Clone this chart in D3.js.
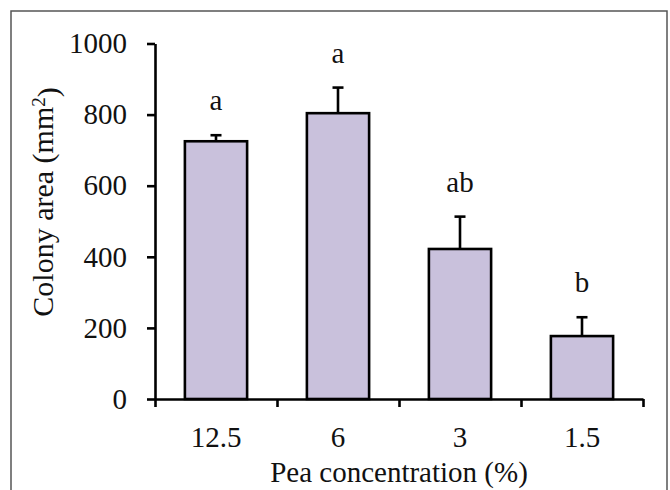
<!DOCTYPE html>
<html>
<head>
<meta charset="utf-8">
<script src="https://cdn.jsdelivr.net/npm/d3@7"></script>
<style>
  body { margin: 0; background: #fff; }
</style>
</head>
<body>
<script>
// data
const concentrations = ["12.5", "6", "3", "1.5"];
const areaMeans = [725, 804, 422, 177];
const areaErrors = [17, 72, 91, 53];
const groupLetters = ["a", "a", "ab", "b"];
const yTicks = [0, 200, 400, 600, 800, 1000];

const width = 670, height = 490;
const serif = "'Liberation Serif', 'DejaVu Serif', serif";

let svg = d3.select("body").append("svg")
  .attr("width", width)
  .attr("height", height);

// frame around the figure (bottom edge runs off the picture)
svg.append("path")
  .attr("d", "M11,492 L11,11 L667,11 L667,492")
  .attr("fill", "none")
  .attr("stroke", "#555")
  .attr("stroke-width", 1.5);

let plotLeft = 155, plotRight = 643, plotTop = 43.5, plotBottom = 399;

let x = d3.scaleBand()
  .domain(concentrations)
  .range([plotLeft, plotRight])
  .paddingInner(0.49)
  .paddingOuter(0.245);

let y = d3.scaleLinear()
  .domain([0, 1000])
  .range([plotBottom, plotTop]);

// bars
svg.selectAll("rect.bar")
  .data(areaMeans)
  .join("rect")
  .attr("class", "bar")
  .attr("x", (d, i) => x(concentrations[i]))
  .attr("y", d => y(d))
  .attr("width", x.bandwidth())
  .attr("height", d => y(0) - y(d))
  .attr("fill", "#c9c1dc")
  .attr("stroke", "#000")
  .attr("stroke-width", 2.6);

// error bars (upper half only)
let cx = i => x(concentrations[i]) + x.bandwidth() / 2;
svg.selectAll("line.err")
  .data(areaMeans)
  .join("line")
  .attr("class", "err")
  .attr("x1", (d, i) => cx(i))
  .attr("x2", (d, i) => cx(i))
  .attr("y1", d => y(d))
  .attr("y2", (d, i) => y(d + areaErrors[i]))
  .attr("stroke", "#000")
  .attr("stroke-width", 2.6);

svg.selectAll("line.cap")
  .data(areaMeans)
  .join("line")
  .attr("class", "cap")
  .attr("x1", (d, i) => cx(i) - 5.5)
  .attr("x2", (d, i) => cx(i) + 5.5)
  .attr("y1", (d, i) => y(d + areaErrors[i]))
  .attr("y2", (d, i) => y(d + areaErrors[i]))
  .attr("stroke", "#000")
  .attr("stroke-width", 2.6);

// significance letters
svg.selectAll("text.letter")
  .data(groupLetters)
  .join("text")
  .attr("class", "letter")
  .attr("x", (d, i) => cx(i))
  .attr("y", (d, i) => y(areaMeans[i] + areaErrors[i]) - 25)
  .attr("text-anchor", "middle")
  .style("font-family", serif)
  .style("font-size", "29px")
  .attr("fill", "#111")
  .text(d => d);

// y axis
let yAxis = svg.append("g")
  .attr("transform", `translate(${plotLeft},0)`)
  .call(d3.axisLeft(y).tickValues(yTicks).tickFormat(d3.format("d"))
    .tickSize(8).tickSizeOuter(0).tickPadding(20));
yAxis.attr("font-family", null);
yAxis.selectAll("text")
  .style("font-family", serif)
  .style("font-size", "29px")
  .attr("fill", "#111");

// x axis: ticks on the category boundaries
let xEdge = d3.scaleLinear().domain([0, concentrations.length]).range([plotLeft, plotRight]);
svg.append("g")
  .attr("transform", `translate(0,${plotBottom})`)
  .call(d3.axisBottom(xEdge).ticks(concentrations.length).tickSize(8).tickSizeOuter(0).tickFormat(""));

let xLabels = svg.append("g")
  .attr("transform", `translate(0,${plotBottom})`)
  .call(d3.axisBottom(x).tickSize(0).tickPadding(27));
xLabels.select(".domain").remove();
xLabels.attr("font-family", null);
xLabels.selectAll("text")
  .style("font-family", serif)
  .style("font-size", "29px")
  .attr("fill", "#111");

svg.selectAll(".domain, .tick line")
  .attr("stroke", "#000")
  .attr("stroke-width", 2.6);

// axis titles
svg.append("text")
  .attr("x", (plotLeft + plotRight) / 2)
  .attr("y", 482)
  .attr("text-anchor", "middle")
  .style("font-family", serif)
  .style("font-size", "29px")
  .attr("fill", "#111")
  .text("Pea concentration (%)");

let yTitle = svg.append("text")
  .attr("transform", "translate(53,202) rotate(-90)")
  .attr("text-anchor", "middle")
  .style("font-family", serif)
  .style("font-size", "30px")
  .attr("fill", "#111");
yTitle.append("tspan").text("Colony area (mm");
yTitle.append("tspan").attr("dy", "-0.42em").style("font-size", "19px").text("2");
yTitle.append("tspan").attr("dy", "0.42em").text(")");
</script>
</body>
</html>
